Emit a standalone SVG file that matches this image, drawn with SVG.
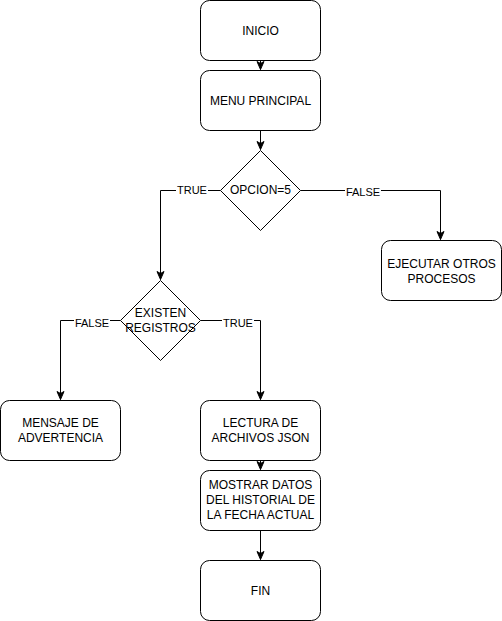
<svg xmlns="http://www.w3.org/2000/svg" width="502" height="621" viewBox="0 0 502 621">
<style>
.n{fill:#fff;stroke:#000;stroke-width:1}
.t{font-family:"Liberation Sans",Arial,sans-serif;font-size:12px;fill:#000;text-anchor:middle}
.l{font-family:"Liberation Sans",Arial,sans-serif;font-size:11px;fill:#000;text-anchor:middle}
.c{fill:none;stroke:#000;stroke-width:1}
</style>
<defs>
<marker id="a" markerUnits="userSpaceOnUse" markerWidth="10" markerHeight="10" viewBox="0 0 10 10" refX="9" refY="5" orient="auto">
<path d="M1,1.5 L9,5 L1,8.5 L3,5 Z" fill="#000" stroke="#000" stroke-width="1"/>
</marker>
</defs>
<rect width="502" height="621" fill="#fff"/>
<g id="connectors">
<path class="c" d="M260.5,60.5 V69.5" marker-end="url(#a)"/>
<path class="c" d="M260.5,130.5 V149.5" marker-end="url(#a)"/>
<path class="c" d="M220.5,190.5 H160.5 V279.5" marker-end="url(#a)"/>
<path class="c" d="M300.5,190.5 H440.5 V239.5" marker-end="url(#a)"/>
<path class="c" d="M120.5,320.5 H60.5 V399.5" marker-end="url(#a)"/>
<path class="c" d="M200.5,320.5 H260.5 V399.5" marker-end="url(#a)"/>
<path class="c" d="M260.5,460.5 V469.5" marker-end="url(#a)"/>
<path class="c" d="M260.5,530.5 V559.5" marker-end="url(#a)"/>
<g id="labels">
<rect x="176" y="184" width="32" height="12" fill="#fff"/>
<text class="l" x="192" y="194">TRUE</text>
<rect x="345" y="186" width="36" height="12" fill="#fff"/>
<text class="l" x="363" y="196">FALSE</text>
<rect x="74" y="317" width="36" height="12" fill="#fff"/>
<text class="l" x="92" y="327">FALSE</text>
<rect x="222" y="317" width="32" height="12" fill="#fff"/>
<text class="l" x="238" y="327">TRUE</text>
</g>
</g>
<g id="inicio">
<rect class="n" x="200.5" y="0.5" width="120" height="60" rx="9"/>
<text class="t" x="260.5" y="35">INICIO</text>
</g>
<g id="menu">
<rect class="n" x="200.5" y="70.5" width="120" height="60" rx="9"/>
<text class="t" x="260.5" y="105">MENU PRINCIPAL</text>
</g>
<g id="opcion">
<path class="n" d="M260.5,150.5 L300.5,190.5 L260.5,230.5 L220.5,190.5 Z"/>
<text class="t" x="260.5" y="194">OPCION=5</text>
</g>
<g id="ejecutar">
<rect class="n" x="381.5" y="240.5" width="120" height="60" rx="9"/>
<text class="t" x="441.5" y="268">EJECUTAR OTROS</text>
<text class="t" x="441.5" y="283">PROCESOS</text>
</g>
<g id="existen">
<path class="n" d="M160.5,280.5 L200.5,320.5 L160.5,360.5 L120.5,320.5 Z"/>
<text class="t" x="160.5" y="317">EXISTEN</text>
<text class="t" x="160.5" y="332">REGISTROS</text>
</g>
<g id="mensaje">
<rect class="n" x="0.5" y="400.5" width="120" height="60" rx="9"/>
<text class="t" x="60.5" y="427">MENSAJE DE</text>
<text class="t" x="60.5" y="442">ADVERTENCIA</text>
</g>
<g id="lectura">
<rect class="n" x="200.5" y="400.5" width="120" height="60" rx="9"/>
<text class="t" x="260.5" y="427">LECTURA DE</text>
<text class="t" x="260.5" y="442">ARCHIVOS JSON</text>
</g>
<g id="mostrar">
<rect class="n" x="200.5" y="470.5" width="120" height="60" rx="9"/>
<text class="t" x="260.5" y="489">MOSTRAR DATOS</text>
<text class="t" x="260.5" y="504">DEL HISTORIAL DE</text>
<text class="t" x="260.5" y="519">LA FECHA ACTUAL</text>
</g>
<g id="fin">
<rect class="n" x="200.5" y="560.5" width="120" height="60" rx="9"/>
<text class="t" x="260.5" y="595">FIN</text>
</g>
</svg>
